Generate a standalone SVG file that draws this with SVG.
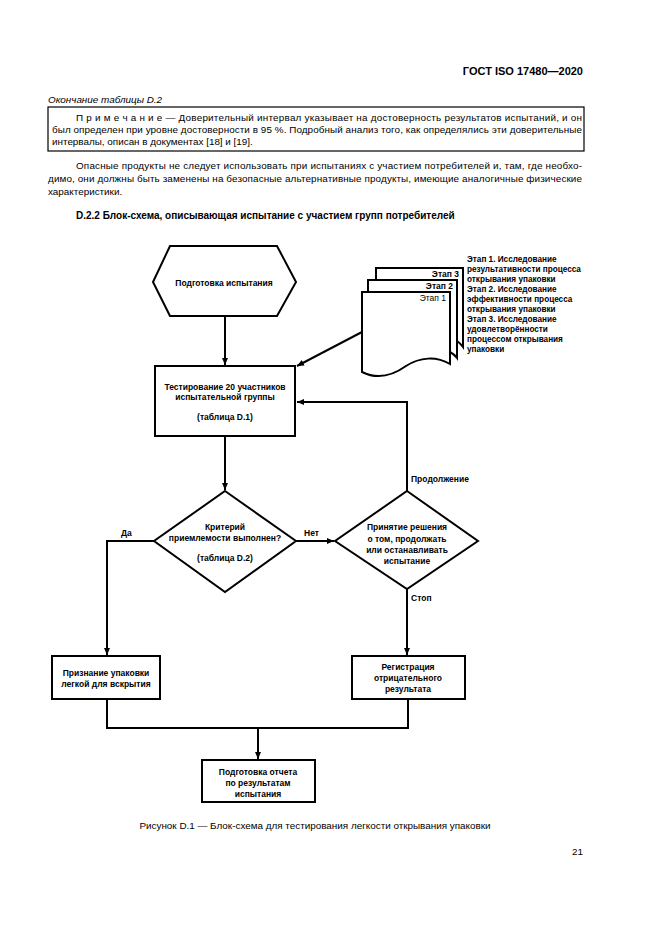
<svg xmlns="http://www.w3.org/2000/svg" width="661" height="935" viewBox="0 0 661 935">
<style>
.t{font-family:"Liberation Sans",Arial,sans-serif;fill:#000}
.body{font-size:9.9px}
.fc{font-size:8.5px;font-weight:bold;text-anchor:middle}
.lb{font-size:8.5px;font-weight:bold}
.sm{font-size:8.2px;font-weight:bold}
.shape{fill:#fff;stroke:#000;stroke-width:2}
.ln{fill:none;stroke:#000;stroke-width:2}
</style>
<defs>
<marker id="ah" markerUnits="userSpaceOnUse" markerWidth="8" markerHeight="8" refX="7" refY="4" orient="auto">
<path d="M0,1 L7,4 L0,7 Z" fill="#000"/>
</marker>
</defs>
<rect x="0" y="0" width="661" height="935" fill="#fff"/>

<g id="page-text">
<text class="t" x="583" y="75" font-size="11px" font-weight="bold" text-anchor="end">ГОСТ ISO 17480—2020</text>
<text class="t body" x="48" y="103" font-style="italic">Окончание таблицы D.2</text>
<rect x="48" y="107" width="536" height="44" fill="none" stroke="#000" stroke-width="1.2"/>
<text class="t body" x="76" y="121" textLength="506" lengthAdjust="spacing">П р и м е ч а н и е  — Доверительный интервал указывает на достоверность результатов испытаний, и он</text>
<text class="t body" x="52" y="133" textLength="530" lengthAdjust="spacing">был определен при уровне достоверности в 95 %. Подробный анализ того, как определялись эти доверительные</text>
<text class="t body" x="52" y="145">интервалы, описан в документах [18] и [19].</text>
<text class="t body" x="76" y="169" textLength="506" lengthAdjust="spacing">Опасные продукты не следует использовать при испытаниях с участием потребителей и, там, где необхо-</text>
<text class="t body" x="48" y="182" textLength="534" lengthAdjust="spacing">димо, они должны быть заменены на безопасные альтернативные продукты, имеющие аналогичные физические</text>
<text class="t body" x="48" y="195">характеристики.</text>
<text class="t" x="76" y="219" font-size="10px" font-weight="bold">D.2.2 Блок-схема, описывающая испытание с участием групп потребителей</text>
<text class="t" x="315" y="829" font-size="9.9px" text-anchor="middle">Рисунок D.1 — Блок-схема для тестирования легкости открывания упаковки</text>
<text class="t body" x="583" y="855" text-anchor="end">21</text>
</g>

<g id="connectors">
<line class="ln" x1="225" y1="316" x2="225" y2="365" marker-end="url(#ah)"/>
<line class="ln" x1="362" y1="332" x2="297" y2="366" marker-end="url(#ah)"/>
<polyline class="ln" points="407,491 407,402 297,402" marker-end="url(#ah)"/>
<line class="ln" x1="225" y1="436" x2="225" y2="490" marker-end="url(#ah)"/>
<line class="ln" x1="296" y1="541" x2="334" y2="541" marker-end="url(#ah)"/>
<polyline class="ln" points="154,541 107,541 107,655" marker-end="url(#ah)"/>
<line class="ln" x1="407" y1="589" x2="407" y2="655" marker-end="url(#ah)"/>
<polyline class="ln" points="107,699 107,728 408,728 408,699"/>
<line class="ln" x1="258" y1="728" x2="258" y2="759" marker-end="url(#ah)"/>
<text class="t lb" x="121" y="536">Да</text>
<text class="t lb" x="304" y="536">Нет</text>
<text class="t lb" x="411" y="482">Продолжение</text>
<text class="t lb" x="411" y="601">Стоп</text>
</g>

<g id="prep">
<polygon class="shape" points="170,246 277,246 296,282 277,316 170,316 153,282"/>
<text class="t fc" x="224" y="286">Подготовка испытания</text>
</g>

<g id="documents">
<path class="shape" d="M376,280 V268 H463 V347 Q460,343 457,341"/>
<path class="shape" d="M368,292 V280 H457 V358 Q454,354 450,352"/>
<path class="shape" d="M362,292 H450 V364 C436,356 420,357 406,366 C392,376 378,380 362,372 Z"/>
<text class="t lb" x="459" y="277" text-anchor="end">Этап 3</text>
<text class="t lb" x="453" y="289" text-anchor="end">Этап 2</text>
<text class="t" x="446" y="301" font-size="8.5px" text-anchor="end">Этап 1</text>
</g>

<g id="stages-note">
<text class="t sm" x="467" y="262">Этап 1. Исследование</text>
<text class="t sm" x="467" y="272">результативности процесса</text>
<text class="t sm" x="467" y="282">открывания упаковки</text>
<text class="t sm" x="467" y="292">Этап 2. Исследование</text>
<text class="t sm" x="467" y="302">эффективности процесса</text>
<text class="t sm" x="467" y="312">открывания упаковки</text>
<text class="t sm" x="467" y="322">Этап 3. Исследование</text>
<text class="t sm" x="467" y="332">удовлетворённости</text>
<text class="t sm" x="467" y="342">процессом открывания</text>
<text class="t sm" x="467" y="352">упаковки</text>
</g>

<g id="testing">
<rect class="shape" x="155" y="366" width="140" height="70"/>
<text class="t fc" x="225" y="390">Тестирование 20 участников</text>
<text class="t fc" x="225" y="400">испытательной группы</text>
<text class="t fc" x="225" y="420">(таблица D.1)</text>
</g>

<g id="criterion">
<polygon class="shape" points="225,491 296,541 225,592 154,541"/>
<text class="t fc" x="225" y="530">Критерий</text>
<text class="t fc" x="225" y="541">приемлемости выполнен?</text>
<text class="t fc" x="225" y="561">(таблица D.2)</text>
</g>

<g id="decision">
<polygon class="shape" points="407,491 478,541 407,589 335,541"/>
<text class="t fc" x="407" y="530">Принятие решения</text>
<text class="t fc" x="407" y="542">о том, продолжать</text>
<text class="t fc" x="407" y="553">или останавливать</text>
<text class="t fc" x="407" y="564">испытание</text>
</g>

<g id="accept">
<rect class="shape" x="52" y="656" width="108" height="43"/>
<text class="t fc" x="106" y="676">Признание упаковки</text>
<text class="t fc" x="106" y="687">легкой для вскрытия</text>
</g>

<g id="negative">
<rect class="shape" x="352" y="656" width="113" height="43"/>
<text class="t fc" x="408" y="670">Регистрация</text>
<text class="t fc" x="408" y="681">отрицательного</text>
<text class="t fc" x="408" y="692">результата</text>
</g>

<g id="report">
<rect class="shape" x="202" y="760" width="113" height="42"/>
<text class="t fc" x="258" y="775">Подготовка отчета</text>
<text class="t fc" x="258" y="786">по результатам</text>
<text class="t fc" x="258" y="797">испытания</text>
</g>
</svg>
